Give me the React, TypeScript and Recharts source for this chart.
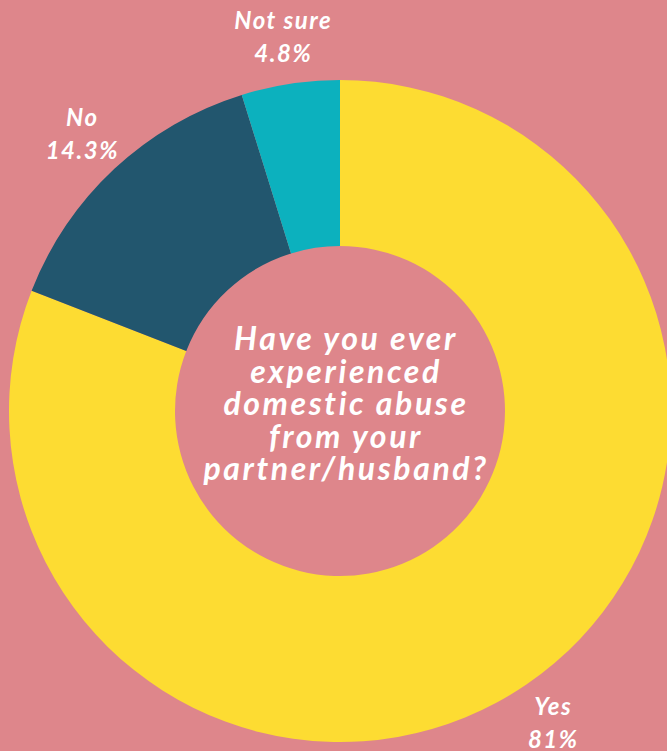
import React from 'react';
import { PieChart, Pie, Cell } from 'recharts';

const categories = ['Yes', 'No', 'Not sure'];
const values = [81, 14.3, 4.8];
const valueLabels = ['81%', '14.3%', '4.8%'];
const colors = ['#FDDC32', '#22566E', '#0CB1BE'];
const centerLines = ['Have you ever', 'experienced', 'domestic abuse', 'from your', 'partner/husband?'];

const data = categories.map((c, i) => ({ name: c, value: values[i], text: valueLabels[i] }));

const FONT = 'Lato, "Open Sans", sans-serif';
const RAD = Math.PI / 180;

const renderLabel = (props: any) => {
  const { cx, cy, midAngle, outerRadius, payload, index } = props;
  const r = outerRadius + 47;
  const x = cx + r * Math.cos(-midAngle * RAD);
  const y = cy + r * Math.sin(-midAngle * RAD);
  return (
    <g>
      <text
        x={x}
        y={y}
        textAnchor="middle"
        fill="#ffffff"
        fontFamily={FONT}
        fontWeight={700}
        fontStyle="italic"
        fontSize={24}
        letterSpacing={1.5}
      >
        <tspan x={x} dy={-8}>{payload.name}</tspan>
        <tspan x={x} dy={33}>{payload.text}</tspan>
      </text>
      {index === 0 && (
        <text
          x={cx}
          y={cy}
          textAnchor="middle"
          fill="#ffffff"
          fontFamily={FONT}
          fontWeight={700}
          fontStyle="italic"
          fontSize={32}
          letterSpacing={2.6}
        >
          {centerLines.map((l, i) => (
            <tspan key={i} x={cx + 6} y={cy - 61 + i * 32.5}>{l}</tspan>
          ))}
        </text>
      )}
    </g>
  );
};

export default function App() {
  return (
    <div style={{ position: 'absolute', left: 0, top: 0, width: 667, height: 751, background: '#DE868B', overflow: 'hidden' }}>
      <PieChart width={667} height={751} margin={{ top: 0, right: 0, bottom: 0, left: 0 }}>
        <Pie
          data={data}
          dataKey="value"
          nameKey="name"
          cx={340}
          cy={411}
          innerRadius={165}
          outerRadius={331}
          startAngle={90}
          endAngle={-270}
          stroke="none"
          isAnimationActive={false}
          labelLine={false}
          label={renderLabel}
        >
          {data.map((d, i) => (
            <Cell key={d.name} fill={colors[i]} />
          ))}
        </Pie>
      </PieChart>
    </div>
  );
}
